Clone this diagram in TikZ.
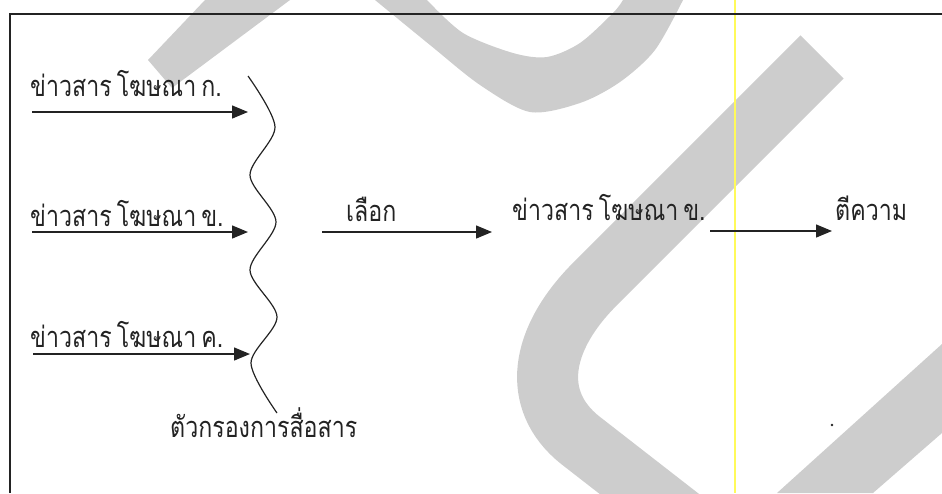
\documentclass[tikz,border=0pt]{standalone}
\usepackage{fontspec}
\newfontfamily\thaifont[Script=Thai,FakeStretch=0.8]{Loma}
\usetikzlibrary{arrows.meta}
\definecolor{wm}{RGB}{205,205,205}
\definecolor{yl}{RGB}{255,250,90}
\definecolor{ink}{RGB}{35,35,35}
\newcommand{\wsp}{\hspace{5pt}}
\begin{document}
\begin{tikzpicture}[x=1pt,y=-1pt,
  lbl/.style={font=\thaifont\fontsize{29}{33}\selectfont, text=ink, inner sep=0pt, anchor=base west},
  arr/.style={-{Triangle[length=16pt,width=13pt]}, line width=1.4pt, draw=ink}]
\useasboundingbox (0,0) rectangle (942,493);
\begin{scope}
\clip (0,0) rectangle (942,493);
\fill[wm] (148,60) -- (172,88) -- (290,0) -- (205,0) -- cycle;
\fill[wm] plot[smooth] coordinates {(375,0) (430,45) (480,85) (530,112) (580,103) (620,82) (655,50) (683,0)} -- plot[smooth] coordinates {(623,0) (613,13) (580,43) (547,57) (513,53) (463,33) (427,0)} -- cycle;
\draw[wm, line width=61pt] (822,57) -- (595,284) .. controls (540,339) and (530,400) .. (580,440) -- (715,545);
\fill[wm] (942,344) -- (777,493) -- (873,493) -- (942,433) -- cycle;
\end{scope}
\draw[yl, line width=1.6pt] (735,0) -- (735,493);
\draw[ink, line width=1.3pt] (10,493) -- (10,14) -- (942,14);
\node[lbl] (m1) at (30,96) {ข่าวสาร\wsp โฆษณา\wsp ก.};
\node[lbl] (m2) at (30,226) {ข่าวสาร\wsp โฆษณา\wsp ข.};
\node[lbl] (m3) at (30,347) {ข่าวสาร\wsp โฆษณา\wsp ค.};
\node[lbl] (sel) at (346,221) {เลือก};
\node[lbl] (mb) at (512,220) {ข่าวสาร\wsp โฆษณา\wsp ข.};
\node[lbl] (intp) at (835,220) {ตีความ};
\node[lbl] (flt) at (170,437) {ตัวกรองการสื่อสาร};
\coordinate (a1s) at (32,112); \coordinate (a1e) at (248,112);
\coordinate (a2s) at (32,232); \coordinate (a2e) at (248,232);
\coordinate (a3s) at (33,354); \coordinate (a3e) at (250,354);
\coordinate (a4s) at (322,232); \coordinate (a4e) at (492,232);
\coordinate (a5s) at (710,231); \coordinate (a5e) at (832,231);
\draw[arr] (a1s) -- (a1e);
\draw[arr] (a2s) -- (a2e);
\draw[arr] (a3s) -- (a3e);
\draw[arr] (a4s) -- (a4e);
\draw[arr] (a5s) -- (a5e);
\draw[ink, line width=1.2pt] plot[smooth] coordinates {(248,76) (275,127) (250,175) (276,222) (250,270) (277,317) (251,363) (277,413)};
\fill[ink] (832,425) circle (1.3pt);
\end{tikzpicture}
\end{document}
